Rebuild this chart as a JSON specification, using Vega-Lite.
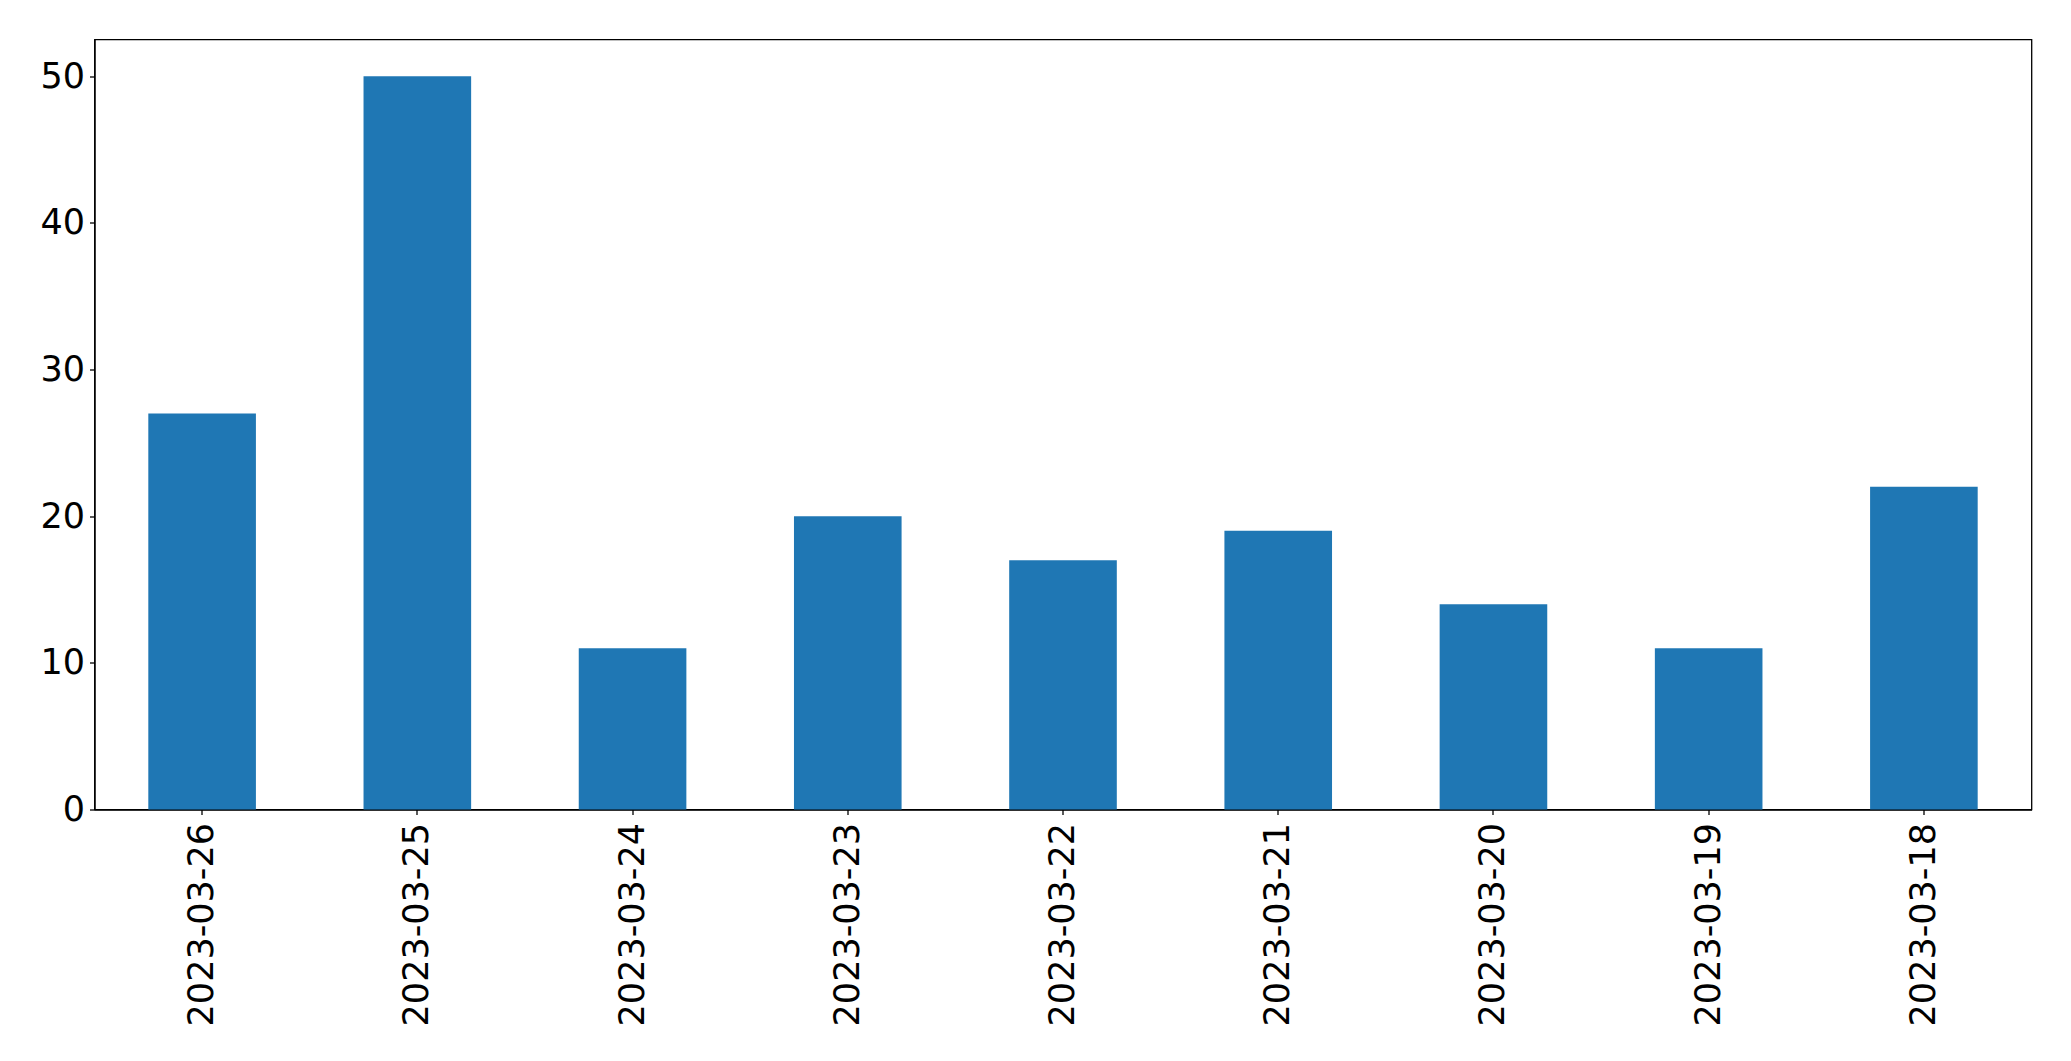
{
  "$schema": "https://vega.github.io/schema/vega-lite/v6.json",
  "width": 1937,
  "height": 770,
  "autosize": {"type": "none"},
  "padding": {"left": 94.5, "top": 39.5, "right": 39.5, "bottom": 252},
  "background": "white",
  "config": {
    "view": {"stroke": "black", "strokeWidth": 1.3},
    "axis": {"labelFont": "DejaVu Sans", "labelFontSize": 35, "labelColor": "black", "tickColor": "black", "domainColor": "black", "tickSize": 5, "tickWidth": 1.3, "domainWidth": 1.3, "grid": false, "title": null, "labelLimit": 0}
  },
  "data": {
    "values": [
      {"date": "2023-03-26", "count": 27},
      {"date": "2023-03-25", "count": 50},
      {"date": "2023-03-24", "count": 11},
      {"date": "2023-03-23", "count": 20},
      {"date": "2023-03-22", "count": 17},
      {"date": "2023-03-21", "count": 19},
      {"date": "2023-03-20", "count": 14},
      {"date": "2023-03-19", "count": 11},
      {"date": "2023-03-18", "count": 22}
    ]
  },
  "mark": {"type": "bar", "color": "#1f77b4"},
  "encoding": {
    "x": {
      "field": "date", "type": "nominal", "sort": null,
      "scale": {"paddingInner": 0.5, "paddingOuter": 0.25},
      "axis": {"labelAngle": -90, "labelPadding": 8, "labelAlign": "right", "labelBaseline": "middle"}
    },
    "y": {
      "field": "count", "type": "quantitative",
      "scale": {"domain": [0, 52.5], "nice": false},
      "axis": {"values": [0, 10, 20, 30, 40, 50], "labelPadding": 5}
    }
  }
}
